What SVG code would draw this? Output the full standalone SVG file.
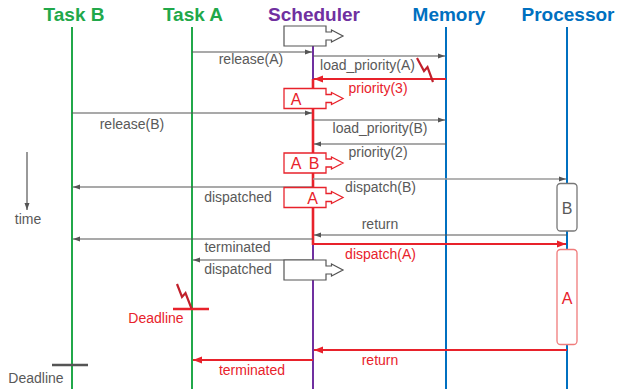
<svg xmlns="http://www.w3.org/2000/svg" width="631" height="389" viewBox="0 0 631 389">
  <style>
    .title { font-family: "Liberation Sans", Arial, sans-serif; font-size: 19px; font-weight: bold; text-anchor: middle; }
    .lbl { font-family: "Liberation Sans", Arial, sans-serif; font-size: 14px; fill: #595959; text-anchor: middle; }
    .red { fill: #e8222b; }
    .big { font-size: 16px; }
    .msg { stroke: #555; stroke-width: 1.2; fill: none; marker-end: url(#ah); }
    .msg-l { stroke: #9a9a9a; stroke-width: 1.5; fill: none; marker-end: url(#ah); }
    .msg-r { stroke: #e8222b; stroke-width: 2; fill: none; marker-end: url(#ahr); }
    .life { stroke-width: 2; fill: none; }
    .queue { fill: #fff; stroke: #555; stroke-width: 1.2; }
    .queue-r { fill: #fff; stroke: #e8222b; stroke-width: 1.3; }
    .bolt { fill: none; stroke: #c1202b; stroke-width: 2.2; stroke-linejoin: miter; }
  </style>
  <defs>
    <marker id="ah" markerUnits="userSpaceOnUse" markerWidth="8" markerHeight="6" refX="7" refY="3" orient="auto">
      <path d="M0,0.5 L7,3 L0,5.5 z" fill="#555"/>
    </marker>
    <marker id="ahr" markerUnits="userSpaceOnUse" markerWidth="10" markerHeight="8" refX="9" refY="4" orient="auto">
      <path d="M0,0.5 L9,4 L0,7.5 z" fill="#e8222b"/>
    </marker>
    <!-- ready-queue box with outgoing block arrow -->
    <path id="qshape" d="M0,0 H42 V6 H47.5 V4 L59,10 L47.5,16 V14 H42 V20 H0 Z"/>
  </defs>

  <rect width="631" height="389" fill="#fff"/>

  <!-- lifelines -->
  <g id="taskB">
    <text class="title" x="74" y="21" fill="#21a84a">Task B</text>
    <line class="life" x1="72" y1="27" x2="72" y2="389" stroke="#21a84a"/>
  </g>
  <g id="taskA">
    <text class="title" x="193" y="21" fill="#21a84a">Task A</text>
    <line class="life" x1="192" y1="27" x2="192" y2="389" stroke="#21a84a"/>
  </g>
  <g id="scheduler">
    <text class="title" x="314" y="21" fill="#7030a0">Scheduler</text>
    <line class="life" x1="313" y1="27" x2="313" y2="389" stroke="#7030a0"/>
    <line x1="313" y1="79" x2="313" y2="245" stroke="#e8222b" stroke-width="2.6"/>
  </g>
  <g id="memory">
    <text class="title" x="449" y="21" fill="#0070c0">Memory</text>
    <line class="life" x1="446" y1="27" x2="446" y2="389" stroke="#0070c0"/>
  </g>
  <g id="processor">
    <text class="title" x="568" y="21" fill="#0070c0">Processor</text>
    <line class="life" x1="567" y1="27" x2="567" y2="389" stroke="#0070c0"/>
  </g>

  <!-- messages -->
  <g id="connectors">
    <line class="msg" x1="192" y1="52" x2="312" y2="52"/>
    <line class="msg" x1="313" y1="56" x2="445" y2="56"/>
    <line class="msg-r" x1="446" y1="79" x2="314" y2="79"/>
    <polyline class="bolt" points="417,58 424,71 427.5,67 433,82"/>
    <line class="msg" x1="72" y1="113" x2="312" y2="113"/>
    <line class="msg" x1="313" y1="120" x2="445" y2="120"/>
    <line class="msg" x1="446" y1="144" x2="314" y2="144"/>
    <line class="msg-l" x1="313" y1="179" x2="566" y2="179"/>
    <line class="msg" x1="313" y1="187" x2="73" y2="187"/>
    <line class="msg" x1="567" y1="235" x2="314" y2="235"/>
    <line class="msg" x1="313" y1="239" x2="73" y2="239"/>
    <line class="msg-r" x1="313" y1="244" x2="566" y2="244"/>
    <line class="msg" x1="313" y1="260" x2="193" y2="260"/>
    <line class="msg-r" x1="567" y1="350" x2="314" y2="350"/>
    <line class="msg-r" x1="313" y1="360" x2="193" y2="360"/>
  </g>

  <!-- message labels -->
  <g id="labels">
    <text class="lbl" x="251" y="63.5">release(A)</text>
    <text class="lbl" x="367.5" y="70">load_priority(A)</text>
    <text class="lbl red" x="378" y="92.5">priority(3)</text>
    <text class="lbl" x="132" y="128.5">release(B)</text>
    <text class="lbl" x="380" y="132.5">load_priority(B)</text>
    <text class="lbl" x="378" y="157">priority(2)</text>
    <text class="lbl" x="380.5" y="191.5">dispatch(B)</text>
    <text class="lbl" x="238" y="201.5">dispatched</text>
    <text class="lbl" x="380" y="228.5">return</text>
    <text class="lbl" x="237.5" y="251.5">terminated</text>
    <text class="lbl red" x="380.5" y="258.5">dispatch(A)</text>
    <text class="lbl" x="238" y="274">dispatched</text>
    <text class="lbl red" x="380" y="365">return</text>
    <text class="lbl red" x="252" y="374.5">terminated</text>
  </g>

  <!-- scheduler ready queue states -->
  <g id="queue0"><use href="#qshape" class="queue" x="284" y="26"/></g>
  <g id="queue1">
    <use href="#qshape" class="queue-r" x="284" y="88.5"/>
    <text class="lbl red big" x="296" y="104.5">A</text>
  </g>
  <g id="queue2">
    <use href="#qshape" class="queue-r" x="284" y="153"/>
    <text class="lbl red big" x="296" y="169">A</text>
    <text class="lbl red big" x="314" y="169">B</text>
  </g>
  <g id="queue3">
    <use href="#qshape" class="queue-r" x="284" y="187.5"/>
    <text class="lbl red big" x="312.5" y="203.5">A</text>
  </g>
  <g id="queue4"><use href="#qshape" class="queue" x="284" y="260"/></g>

  <!-- processor execution -->
  <g id="runB">
    <rect x="557" y="183.5" width="20" height="47.5" rx="3.5" fill="#fff" stroke="#777" stroke-width="1.3"/>
    <text class="lbl big" x="567" y="213.5">B</text>
  </g>
  <g id="runA">
    <rect x="557" y="249.5" width="20" height="95" rx="3.5" fill="#fff" stroke="#f07b7b" stroke-width="1.3"/>
    <text class="lbl red big" x="567" y="304">A</text>
  </g>

  <!-- deadlines -->
  <g id="deadlineA">
    <line x1="173" y1="309" x2="209" y2="309" stroke="#e8222b" stroke-width="2.5"/>
    <polyline class="bolt" points="177,284 182,297 185.5,293 191.5,308.5"/>
    <text class="lbl red" x="156" y="323">Deadline</text>
  </g>
  <g id="deadlineB">
    <line x1="52" y1="365" x2="88" y2="365" stroke="#555" stroke-width="2.5"/>
    <text class="lbl" x="36" y="383">Deadline</text>
  </g>

  <!-- time axis -->
  <g id="time">
    <line class="msg" x1="27" y1="152" x2="27" y2="210"/>
    <text class="lbl" x="28" y="223.5">time</text>
  </g>
</svg>
